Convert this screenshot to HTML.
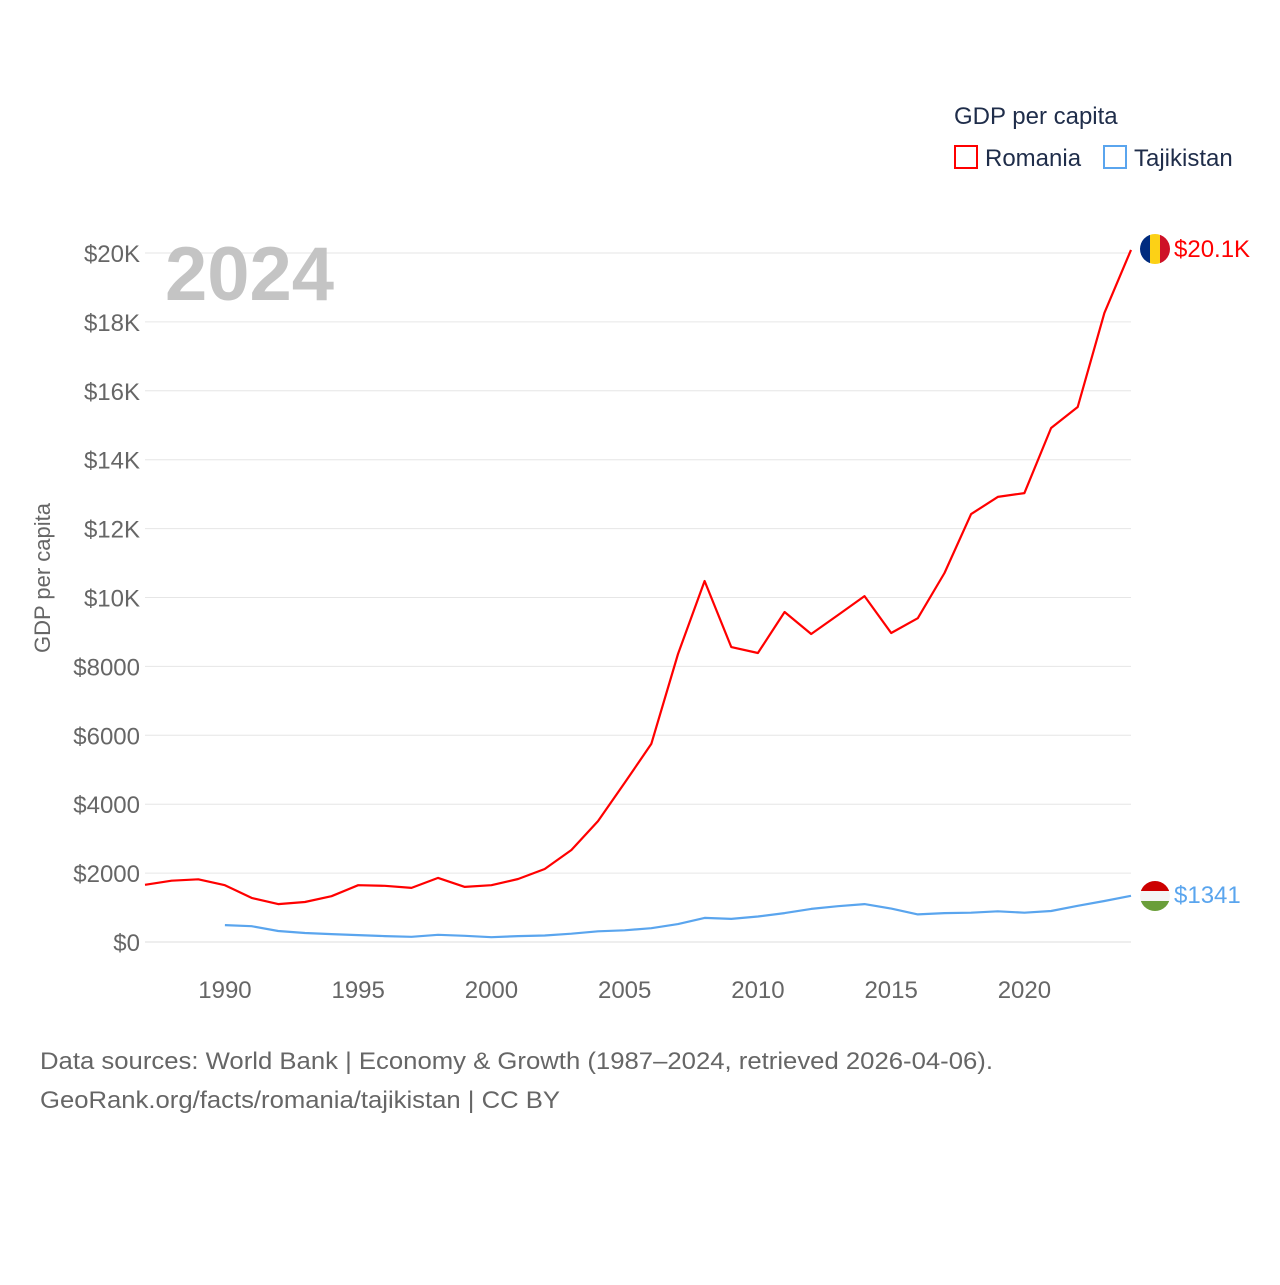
<!DOCTYPE html>
<html><head><meta charset="utf-8">
<style>
body{margin:0;background:#fff;font-family:"Liberation Sans",sans-serif;}
svg text{font-family:"Liberation Sans",sans-serif;}
</style></head>
<body>
<svg id="chart" width="1280" height="1280" viewBox="0 0 1280 1280" xmlns="http://www.w3.org/2000/svg">
<rect width="1280" height="1280" fill="#fff"/>
<g id="grid"></g>
<g id="xaxis"></g>
<text x="165" y="300" font-size="76" font-weight="bold" fill="#c4c4c4">2024</text>
<text transform="translate(50,578) rotate(-90)" text-anchor="middle" font-size="22" fill="#666">GDP per capita</text>
<g id="series"></g>
<g>
<text x="954" y="124" font-size="24" fill="#1f2d4a">GDP per capita</text>
<g><rect x="955" y="146" width="22" height="22" fill="none" stroke="#f00" stroke-width="2"/><text x="985" y="166" font-size="24" fill="#1f2d4a">Romania</text></g>
<g><rect x="1104" y="146" width="22" height="22" fill="none" stroke="#5aa5ee" stroke-width="2"/><text x="1134" y="166" font-size="24" fill="#1f2d4a">Tajikistan</text></g>
</g>
<g>
<clipPath id="c1"><circle cx="1155" cy="249" r="15"/></clipPath>
<g clip-path="url(#c1)"><rect x="1140" y="234" width="10" height="30" fill="#002b7f"/><rect x="1150" y="234" width="10" height="30" fill="#fcd116"/><rect x="1160" y="234" width="10" height="30" fill="#ce1126"/></g>
</g>
<text x="1174" y="257" font-size="24" fill="#f00">$20.1K</text>
<g>
<clipPath id="c2"><circle cx="1155" cy="896" r="15"/></clipPath>
<g clip-path="url(#c2)"><rect x="1140" y="881" width="30" height="10" fill="#cc0000"/><rect x="1140" y="891" width="30" height="10" fill="#f4f4f4"/><rect x="1140" y="901" width="30" height="10" fill="#6a9e3a"/></g>
</g>
<text x="1174" y="903" font-size="24" fill="#5aa5ee">$1341</text>
<text x="40" y="1069" font-size="24" fill="#666" textLength="953" lengthAdjust="spacingAndGlyphs">Data sources: World Bank | Economy &amp; Growth (1987–2024, retrieved 2026-04-06).</text>
<text x="40" y="1108" font-size="24" fill="#666" textLength="520" lengthAdjust="spacingAndGlyphs">GeoRank.org/facts/romania/tajikistan | CC BY</text>
</svg>
<script>
const yTicks=[0,2000,4000,6000,8000,10000,12000,14000,16000,18000,20000];
const yTickLabels=["$0","$2000","$4000","$6000","$8000","$10K","$12K","$14K","$16K","$18K","$20K"];
const xTicks=[1990,1995,2000,2005,2010,2015,2020];
const romaniaYears=[1987,1988,1989,1990,1991,1992,1993,1994,1995,1996,1997,1998,1999,2000,2001,2002,2003,2004,2005,2006,2007,2008,2009,2010,2011,2012,2013,2014,2015,2016,2017,2018,2019,2020,2021,2022,2023,2024];
const romaniaValues=[1660,1780,1820,1650,1280,1100,1160,1330,1650,1630,1570,1860,1600,1650,1830,2120,2670,3510,4620,5750,8360,10480,8560,8390,9580,8940,9490,10040,8970,9400,10710,12420,12920,13030,14920,15530,18260,20090];
const tajikYears=[1990,1991,1992,1993,1994,1995,1996,1997,1998,1999,2000,2001,2002,2003,2004,2005,2006,2007,2008,2009,2010,2011,2012,2013,2014,2015,2016,2017,2018,2019,2020,2021,2022,2023,2024];
const tajikValues=[490,460,320,260,230,200,170,150,210,180,140,170,190,240,310,340,400,520,700,670,740,840,960,1040,1100,970,800,840,850,890,850,900,1050,1190,1341];
const NS="http://www.w3.org/2000/svg";
function xs(y){return 145+(y-1987)*(1131-145)/(2024-1987);}
function ys(v){return 942-v*(942-253)/20000;}
const grid=document.getElementById('grid');
yTicks.forEach((t,i)=>{
 const l=document.createElementNS(NS,'line');
 l.setAttribute('x1',145);l.setAttribute('x2',1131);l.setAttribute('y1',ys(t));l.setAttribute('y2',ys(t));
 l.setAttribute('stroke',t===0?'#ddd':'#e6e6e6');l.setAttribute('stroke-width',1);
 
 
 grid.appendChild(l);
 const tx=document.createElementNS(NS,'text');
 tx.setAttribute('x',140);tx.setAttribute('y',ys(t)+9);tx.setAttribute('text-anchor','end');
 tx.setAttribute('font-size','24');tx.setAttribute('fill','#666');tx.textContent=yTickLabels[i];
 
 
 grid.appendChild(tx);
});
const xa=document.getElementById('xaxis');
xTicks.forEach(t=>{
 const tx=document.createElementNS(NS,'text');
 tx.setAttribute('x',xs(t));tx.setAttribute('y',998);tx.setAttribute('text-anchor','middle');
 tx.setAttribute('font-size','24');tx.setAttribute('fill','#666');tx.textContent=t;
 
 
 xa.appendChild(tx);
});
function line(years,vals,color,name){
 const p=document.createElementNS(NS,'polyline');
 p.setAttribute('points',years.map((y,i)=>xs(y).toFixed(1)+','+ys(vals[i]).toFixed(1)).join(' '));
 p.setAttribute('fill','none');p.setAttribute('stroke',color);p.setAttribute('stroke-width',2.2);
 p.setAttribute('stroke-linejoin','round');
 
 
 document.getElementById('series').appendChild(p);
}
line(romaniaYears,romaniaValues,'#f00','romania-line');
line(tajikYears,tajikValues,'#5aa5ee','tajikistan-line');
</script>
</body></html>
